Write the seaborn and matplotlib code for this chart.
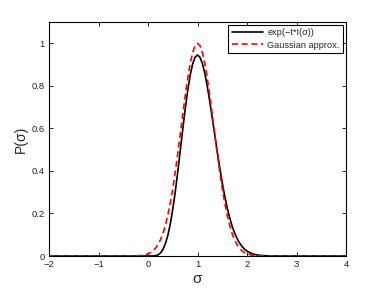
import numpy as np
import pandas as pd
import matplotlib
matplotlib.use("Agg")
import matplotlib.pyplot as plt
import seaborn as sns

sigma = [-2.0,
         -0.50, -0.45, -0.40, -0.35, -0.30, -0.25, -0.20, -0.15, -0.10, -0.05,
         0.00, 0.05, 0.10, 0.15, 0.20, 0.25, 0.30, 0.35, 0.40, 0.45,
         0.50, 0.55, 0.60, 0.65, 0.70, 0.75, 0.80, 0.85, 0.90, 0.95,
         1.00, 1.05, 1.10, 1.15, 1.20, 1.25, 1.30, 1.35, 1.40, 1.45,
         1.50, 1.55, 1.60, 1.65, 1.70, 1.75, 1.80, 1.85, 1.90, 1.95,
         2.00, 2.05, 2.10, 2.15, 2.20, 2.25, 2.30, 2.35, 2.40, 2.45,
         2.50, 2.55, 2.60,
         4.0]

p_exact = [0.0,
           0, 0, 0, 0, 0, 0, 0, 0, 0, 0,
           0, 0, 0.0002, 0.0014, 0.005, 0.014, 0.030, 0.057, 0.096, 0.150,
           0.219, 0.300, 0.393, 0.492, 0.592, 0.688, 0.775, 0.847, 0.901, 0.934,
           0.945, 0.934, 0.904, 0.856, 0.795, 0.723, 0.646, 0.567, 0.488, 0.413,
           0.344, 0.282, 0.227, 0.180, 0.140, 0.108, 0.082, 0.061, 0.045, 0.032,
           0.023, 0.016, 0.011, 0.0077, 0.005, 0.0034, 0.0023, 0.0015, 0.001, 0.0006,
           0.0004, 0.0003, 0.0002,
           0.0]

p_gauss = [0.0,
           0, 0, 0.0001, 0.0002, 0.0004, 0.0008, 0.0013, 0.0023, 0.0039, 0.0063,
           0.010, 0.0159, 0.024, 0.0363, 0.053, 0.0756, 0.105, 0.1438, 0.192, 0.2495,
           0.317, 0.3948, 0.480, 0.570, 0.662, 0.7506, 0.832, 0.902, 0.955, 0.9886,
           1.0, 0.9886, 0.955, 0.902, 0.832, 0.7506, 0.662, 0.570, 0.480, 0.3948,
           0.317, 0.2495, 0.192, 0.1438, 0.105, 0.0756, 0.053, 0.0363, 0.024, 0.0159,
           0.010, 0.0063, 0.0039, 0.0023, 0.0013, 0.0008, 0.0004, 0.0002, 0.0001, 0,
           0, 0, 0,
           0.0]

labels = ["exp(\u2212t*I(\u03c3))", "Gaussian approx."]
x_ticks = [-2, -1, 0, 1, 2, 3, 4]
y_ticks = [0, 0.2, 0.4, 0.6, 0.8, 1.0]
y_ticklabels = ["0", "0.2", "0.4", "0.6", "0.8", "1"]

df = pd.DataFrame({
    "sigma": sigma + sigma,
    "P": p_exact + p_gauss,
    "series": [labels[0]] * len(sigma) + [labels[1]] * len(sigma),
})

sns.set_style("ticks")
plt.rcParams["font.family"] = ["Liberation Sans", "DejaVu Sans"]

fig = plt.figure(figsize=(3.82, 2.88), dpi=100)
ax = fig.add_axes([49 / 382, 32 / 288, 297 / 382, 234 / 288])

sns.lineplot(data=df, x="sigma", y="P", hue="series", style="series",
             palette={labels[0]: "black", labels[1]: "#ff0000"},
             dashes={labels[0]: "", labels[1]: (3.6, 2.2)},
             hue_order=labels, style_order=labels,
             linewidth=1.2, ax=ax, sort=False)

ax.set_xlim(-2, 4)
ax.set_ylim(0, 1.1)
ax.set_xticks(x_ticks)
ax.set_xticklabels([str(t).replace("-", "\u2212") for t in x_ticks])
ax.set_yticks(y_ticks)
ax.set_yticklabels(y_ticklabels)
ax.tick_params(direction="in", top=True, right=True, length=3, width=0.6,
               labelsize=6.8, pad=3, colors="black")
for lbl in ax.get_xticklabels() + ax.get_yticklabels():
    lbl.set_color("#222222")
for s in ax.spines.values():
    s.set_visible(True)
    s.set_linewidth(0.8)
    s.set_color("black")

ax.set_xlabel("\u03c3", fontsize=11, labelpad=2)
ax.set_ylabel("P(\u03c3)", fontsize=10, labelpad=3)

leg = ax.legend(loc="upper right", fontsize=6.6, frameon=True, fancybox=False,
                edgecolor="black", framealpha=1, borderpad=0.4,
                handlelength=3.4, handletextpad=0.5, labelspacing=0.35,
                borderaxespad=0.3)
leg.get_frame().set_linewidth(0.8)

fig.savefig("out.png", dpi=100)
